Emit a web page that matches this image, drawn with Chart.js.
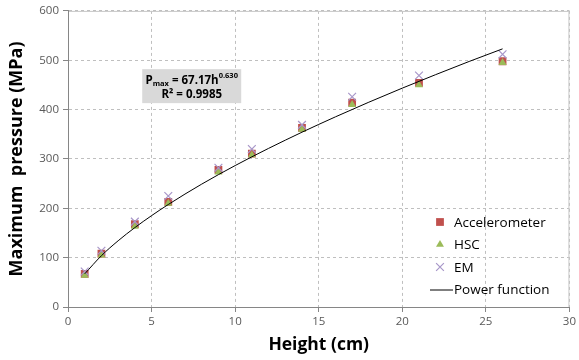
<!DOCTYPE html>
<html>
<head>
<meta charset="utf-8">
<script src="https://cdn.jsdelivr.net/npm/chart.js@4/dist/chart.umd.min.js"></script>
<style>
	html, body { margin: 0; padding: 0; background: #fff; }
	#wrap { width: 579px; height: 360px; }
</style>
</head>
<body>
<div id="wrap"><canvas id="pmax"></canvas></div>
<script>
'use strict';

// 落錘高度 (cm)
var heights = [1, 2, 4, 6, 9, 11, 14, 17, 21, 26];

// 三種量測方法的最大壓力 (MPa)
var accelValues = [67, 108, 168, 213, 278, 311, 363, 414, 454, 498];
var hscValues   = [64, 105, 163, 210, 273, 308, 360, 410, 450, 495];
var emValues    = [72, 114, 173, 225, 282, 320, 369, 426, 469, 512];

// 擬合曲線 Pmax = 67.17h^0.630 的取樣點
var fitHeights = [1, 2, 3, 4, 5, 6, 8, 10, 12, 14, 16, 18, 20, 22, 24, 26];
var fitValues  = [67.2, 104.0, 134.2, 160.9, 185.1, 207.7, 249.0, 286.6, 321.4, 354.2, 385.3, 415.0, 443.5, 470.9, 497.5, 523.1];

var xTicks = [0, 5, 10, 15, 20, 25, 30];
var yTicks = [0, 100, 200, 300, 400, 500, 600];

var seriesNames = ['Accelerometer', 'HSC', 'EM', 'Power function'];

function toPoints(xs, ys) {
	var pts = [];
	for (var i = 0; i < xs.length; i++) {
		pts.push({x: xs[i], y: ys[i]});
	}
	return pts;
}

var FONT = "'Open Sans', 'DejaVu Sans', sans-serif";

// 外框與座標軸線
var frame = {
	id: 'frame',
	afterDatasetsDraw: function(chart) {
		var a = chart.chartArea, ctx = chart.ctx;
		ctx.save();
		ctx.lineWidth = 1;
		ctx.strokeStyle = '#c8c8c8';
		ctx.beginPath();
		ctx.moveTo(a.left, a.top + 0.5);
		ctx.lineTo(a.right - 0.5, a.top + 0.5);
		ctx.lineTo(a.right - 0.5, a.bottom);
		ctx.stroke();
		ctx.strokeStyle = '#868686';
		ctx.beginPath();
		ctx.moveTo(a.left + 0.5, a.top);
		ctx.lineTo(a.left + 0.5, a.bottom + 0.5);
		ctx.lineTo(a.right, a.bottom + 0.5);
		ctx.stroke();
		ctx.restore();
	}
};

// 方程式標籤
var equation = {
	id: 'equation',
	afterDraw: function(chart) {
		var ctx = chart.ctx;
		var xs = chart.scales.x, ys = chart.scales.y;
		var left = xs.getPixelForValue(4.44);
		var top = ys.getPixelForValue(482);
		var w = 99, h = 34, cx = left + w / 2;
		ctx.save();
		ctx.fillStyle = '#d9d9d9';
		ctx.fillRect(left, top, w, h);
		ctx.fillStyle = '#000';
		ctx.textBaseline = 'alphabetic';
		var big = 'bold 11.5px ' + FONT, small = 'bold 7.5px ' + FONT;
		var parts = [
			{t: 'P', f: big, dy: 0},
			{t: 'max', f: small, dy: 2},
			{t: ' = 67.17h', f: big, dy: 0},
			{t: '0.630', f: small, dy: -6}
		];
		var total = 0;
		parts.forEach(function(p) { ctx.font = p.f; p.w = ctx.measureText(p.t).width; total += p.w; });
		var x = cx - total / 2, y = top + 15;
		parts.forEach(function(p) { ctx.font = p.f; ctx.fillText(p.t, x, y + p.dy); x += p.w; });
		ctx.font = big;
		ctx.textAlign = 'center';
		ctx.fillText('R\u00b2 = 0.9985', cx, top + 29);
		ctx.restore();
	}
};

// 圖內圖例
var innerLegend = {
	id: 'innerLegend',
	afterDraw: function(chart) {
		var ctx = chart.ctx;
		var x0 = 440, y0 = 222, step = 22.5;
		ctx.save();
		ctx.font = '13.5px ' + FONT;
		ctx.textBaseline = 'middle';
		seriesNames.forEach(function(name, i) {
			var ds = chart.data.datasets[i];
			var y = y0 + i * step;
			if (i < 3) {
				ctx.fillStyle = ds.pointBackgroundColor;
				ctx.strokeStyle = ds.pointBorderColor;
				ctx.lineWidth = ds.borderWidth;
				Chart.helpers.drawPoint(ctx, {
					pointStyle: ds.pointStyle,
					radius: ds.pointRadius,
					borderWidth: ds.borderWidth
				}, x0, y);
			} else {
				ctx.strokeStyle = '#000';
				ctx.lineWidth = 1;
				ctx.beginPath();
				ctx.moveTo(x0 - 10, y + 0.5);
				ctx.lineTo(x0 + 13, y + 0.5);
				ctx.stroke();
			}
			ctx.fillStyle = '#000';
			ctx.fillText(name, x0 + 14, y + 1);
		});
		ctx.restore();
	}
};

var ctx = document.getElementById('pmax');
var chart = new Chart(ctx, {
	type: 'scatter',
	data: {
		datasets: [{
			label: seriesNames[0],
			data: toPoints(heights, accelValues),
			pointStyle: 'rect',
			pointRadius: 5.5,
			pointHoverRadius: 5.5,
			backgroundColor: '#c0504d',
			borderColor: '#c0504d',
			pointBackgroundColor: '#c0504d',
			pointBorderColor: '#c0504d',
			borderWidth: 0,
			order: 3
		}, {
			label: seriesNames[1],
			data: toPoints(heights, hscValues),
			pointStyle: 'triangle',
			pointRadius: 4.6,
			pointHoverRadius: 4.6,
			backgroundColor: '#9bbb59',
			borderColor: '#9bbb59',
			pointBackgroundColor: '#9bbb59',
			pointBorderColor: '#9bbb59',
			borderWidth: 0,
			order: 2
		}, {
			label: seriesNames[2],
			data: toPoints(heights, emValues),
			pointStyle: 'crossRot',
			pointRadius: 5.5,
			pointHoverRadius: 5.5,
			backgroundColor: '#a897c9',
			borderColor: '#a897c9',
			pointBackgroundColor: '#a897c9',
			pointBorderColor: '#a897c9',
			borderWidth: 1.2,
			order: 1
		}, {
			label: seriesNames[3],
			type: 'line',
			data: toPoints(fitHeights, fitValues),
			borderColor: '#000',
			borderWidth: 1,
			pointRadius: 0,
			pointHoverRadius: 0,
			fill: false,
			cubicInterpolationMode: 'monotone',
			order: 0
		}]
	},
	options: {
		responsive: true,
		maintainAspectRatio: false,
		animation: false,
		layout: { padding: { top: 6, right: 7, left: 0, bottom: 0 } },
		plugins: {
			legend: { display: false },
			tooltip: { enabled: false }
		},
		scales: {
			x: {
				type: 'linear',
				min: 0,
				max: 30,
				afterBuildTicks: function(s) { s.ticks = xTicks.map(function(v) { return {value: v}; }); },
				afterFit: function(s) { s.height = 53; },
				ticks: { color: '#595959', font: { family: FONT, size: 11.5 }, padding: 3, maxRotation: 0 },
				grid: { color: '#bfbfbf', tickColor: '#868686', tickLength: 5, tickBorderDash: [] },
				border: { dash: [3, 3], color: '#868686' },
				title: {
					display: true,
					text: 'Height (cm)',
					color: '#000',
					font: { family: FONT, size: 17.5, weight: 'bold' },
					padding: { top: 0 }
				}
			},
			y: {
				min: 0,
				max: 600,
				afterBuildTicks: function(s) { s.ticks = yTicks.map(function(v) { return {value: v}; }); },
				afterFit: function(s) { s.width = 68; },
				ticks: { color: '#595959', font: { family: FONT, size: 11.5 }, padding: 4 },
				grid: { color: '#bfbfbf', tickColor: '#868686', tickLength: 5, tickBorderDash: [] },
				border: { dash: [3, 3], color: '#868686' },
				title: {
					display: true,
					text: 'Maximum  pressure (MPa)',
					color: '#000',
					font: { family: FONT, size: 18, weight: 'bold' },
					padding: { top: 6, bottom: 2 }
				}
			}
		}
	},
	plugins: [frame, equation, innerLegend]
});
</script>
</body>
</html>
